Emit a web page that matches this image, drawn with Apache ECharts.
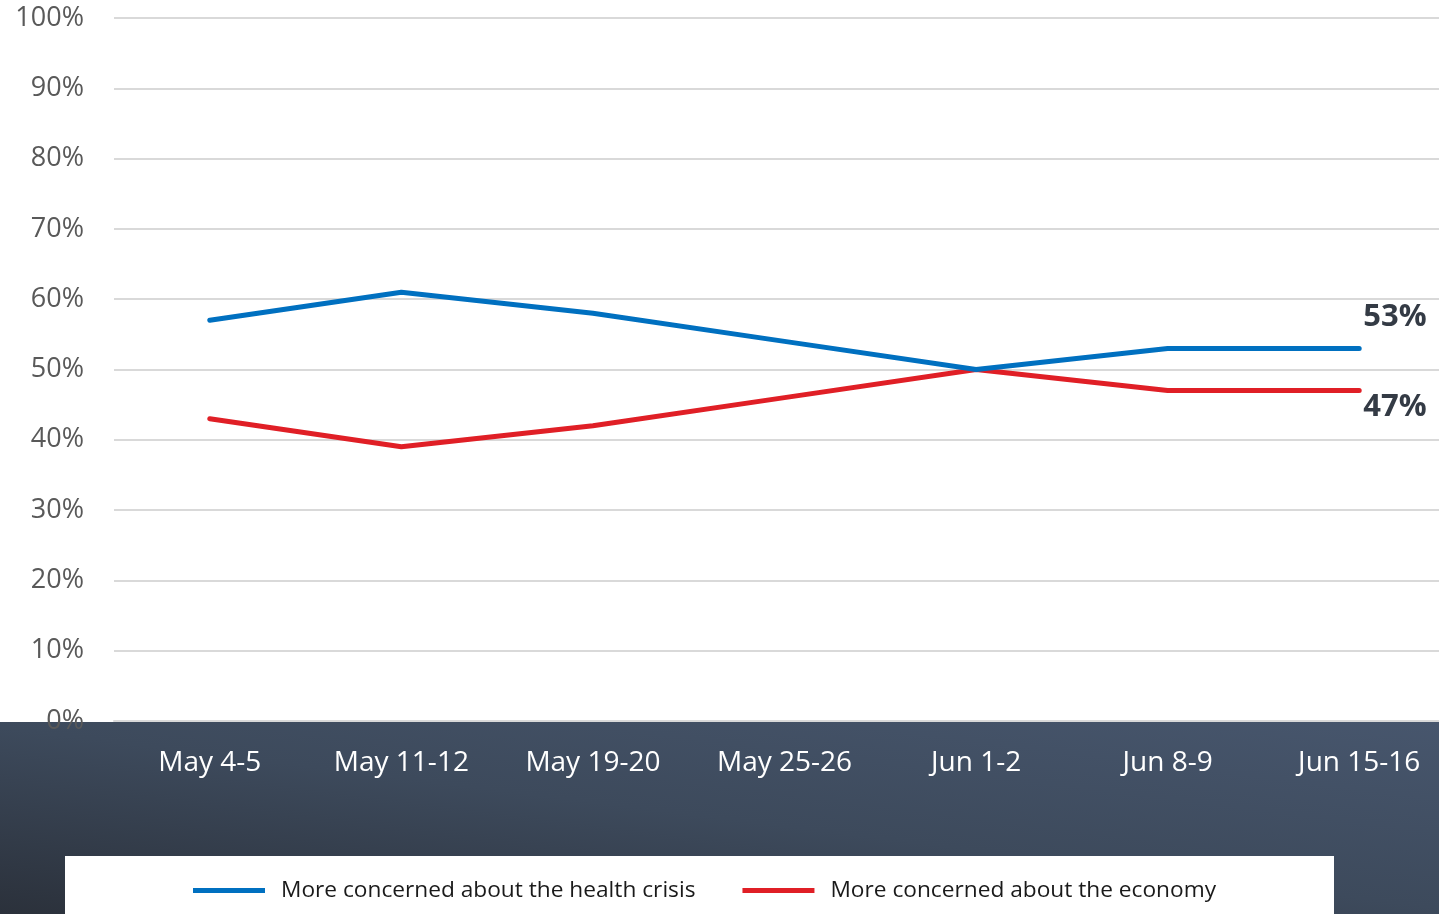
<!DOCTYPE html>
<html><head><meta charset="utf-8">
<script src="https://cdn.jsdelivr.net/npm/echarts@6/dist/echarts.min.js"></script>
<style>html,body{margin:0;padding:0;background:#fff}#c{width:1439px;height:914px}</style>
</head><body><div id="c"></div>
<script>
const categories = ['May 4-5','May 11-12','May 19-20','May 25-26','Jun 1-2','Jun 8-9','Jun 15-16'];
const healthValues = [57, 61, 58, 54, 50, 53, 53];
const economyValues = [43, 39, 42, 46, 50, 47, 47];
const seriesNames = ['More concerned about the health crisis','More concerned about the economy'];

const FONT = '"Open Sans", "Noto Sans", sans-serif';
function endLabel(dy){
  return {show:true, formatter:'{c}%', fontSize:31, fontWeight:'bold', color:'#343b45', fontFamily:FONT,
          distance:4, offset:[0, dy], align:'left', verticalAlign:'middle'};
}
const chart = echarts.init(document.getElementById('c'));
chart.setOption({
  animation:false,
  backgroundColor:'#fff',
  graphic:[
    {type:'rect', z:-10, shape:{x:0,y:722,width:1439,height:192},
     style:{fill:new echarts.graphic.LinearGradient(0,914,46,547,[{offset:0,color:'#2b313b'},{offset:0.5,color:'#3d4a5c'},{offset:1,color:'#47566d'}], true)}},
    {type:'rect', z:-9, shape:{x:65,y:856,width:1269,height:58}, style:{fill:'#ffffff'}}
  ],
  grid:{left:114, width:1341, top:18, height:703, containLabel:false, outerBoundsMode:'none'},
  legend:{
    left:188, top:874, icon:'rect', itemWidth:72, itemHeight:5, itemGap:47,
    textStyle:{fontSize:22.7, color:'#1a1a1a', fontFamily:FONT, padding:[0,0,0,11]},
    data:seriesNames
  },
  xAxis:{type:'category', data:categories, boundaryGap:true,
    axisLine:{show:true, lineStyle:{color:'#d9d9d9', width:2}},
    axisTick:{show:false},
    axisLabel:{color:'#ffffff', fontSize:28, fontFamily:FONT, margin:28}
  },
  yAxis:{type:'value', min:0, max:100, interval:10,
    axisLine:{show:false}, axisTick:{show:false},
    splitLine:{lineStyle:{color:'#d9d9d9', width:2}},
    axisLabel:{formatter:'{value}%', color:'#595959', fontSize:27, fontFamily:FONT, margin:30}
  },
  series:[
    {name:seriesNames[0], type:'line', data:healthValues, symbol:'none',
     lineStyle:{color:'#0070c0', width:5, cap:'round', join:'round'}, itemStyle:{color:'#0070c0'}, z:3,
     endLabel:endLabel(-31)},
    {name:seriesNames[1], type:'line', data:economyValues, symbol:'none',
     lineStyle:{color:'#e01f26', width:5, cap:'round', join:'round'}, itemStyle:{color:'#e01f26'}, z:2,
     endLabel:endLabel(17)}
  ]
});
</script></body></html>
